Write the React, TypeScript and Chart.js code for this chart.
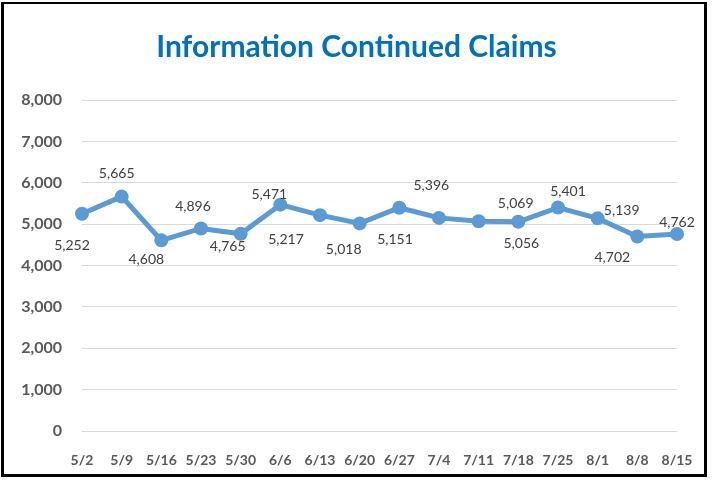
import React, { useEffect, useRef } from "react";
import { Chart, registerables } from "chart.js";

Chart.register(...registerables);

const categories = ["5/2", "5/9", "5/16", "5/23", "5/30", "6/6", "6/13", "6/20", "6/27", "7/4", "7/11", "7/18", "7/25", "8/1", "8/8", "8/15"];
const claims = [5252, 5665, 4608, 4896, 4765, 5471, 5217, 5018, 5396, 5151, 5069, 5056, 5401, 5139, 4702, 4762];
const yTicks = { min: 0, max: 8000, step: 1000 };
const titleText = "Information Continued Claims";

// label placement relative to each point (px), styling only
const labelOffsets: [number, number][] = [
  [-10, 32], [-5, -23], [-15, 19], [-8, -22], [-13, 13], [-11, -10], [-34, 24], [-16, 26],
  [32, -22], [-44, 22], [37, -18], [3, 22], [10, -16], [24, -8], [-25, 21], [0, -11],
];

const FONT = 'Lato, "Open Sans", "Noto Sans", sans-serif';
const fmt = (v: number) => v.toLocaleString("en-US");

const labelPlugin = {
  id: "pointLabels",
  afterDatasetsDraw(chart: any) {
    const ctx = chart.ctx;
    const meta = chart.getDatasetMeta(0);
    ctx.save();
    ctx.font = `14px ${FONT}`;
    ctx.fillStyle = "#404040";
    ctx.textAlign = "center";
    ctx.textBaseline = "middle";
    meta.data.forEach((pt: any, i: number) => {
      const [dx, dy] = labelOffsets[i] || [0, -14];
      ctx.fillText(fmt(claims[i]), pt.x + dx, pt.y + dy);
    });
    ctx.restore();
  },
};

export default function App() {
  const ref = useRef<HTMLCanvasElement | null>(null);
  useEffect(() => {
    if (!ref.current) return;
    const chart = new Chart(ref.current, {
      type: "line",
      data: {
        labels: categories,
        datasets: [
          {
            data: claims,
            borderColor: "#5B9BD5",
            backgroundColor: "#5B9BD5",
            borderWidth: 5,
            pointRadius: 7,
            pointBackgroundColor: "#5B9BD5",
            pointBorderWidth: 0,
            tension: 0,
          },
        ],
      },
      options: {
        responsive: false,
        animation: false,
        devicePixelRatio: 1,
        layout: { padding: { left: 0, right: 0, top: 0, bottom: 0 } },
        plugins: {
          legend: { display: false },
          tooltip: { enabled: false },
          title: {
            display: true,
            text: titleText,
            color: "#0070C0",
            font: { family: FONT, size: 30, weight: "bold" },
            padding: { top: 29, bottom: 35 },
          },
        },
        scales: {
          x: {
            offset: false,
            grid: { display: false },
            border: { display: false },
            ticks: {
              color: "#595959",
              font: { family: FONT, size: 14, weight: "bold" },
              padding: 13,
              maxRotation: 0,
              autoSkip: false,
            },
            afterFit: (s: any) => {
              s.height = 50;
            },
          },
          y: {
            min: yTicks.min,
            max: yTicks.max,
            grid: { color: "#D9D9D9", lineWidth: 1, drawTicks: false },
            border: { display: false },
            ticks: {
              stepSize: yTicks.step,
              color: "#595959",
              font: { family: FONT, size: 16, weight: "bold" },
              padding: 20,
              callback: (v: any) => fmt(Number(v)),
            },
            afterFit: (s: any) => {
              s.width = 82;
            },
          },
          spacer: {
            type: "linear",
            position: "right",
            display: true,
            grid: { display: false, drawTicks: false },
            border: { display: false },
            ticks: { display: false },
            afterFit: (s: any) => {
              s.width = 36;
            },
          },
        },
      },
      plugins: [labelPlugin],
    });
    return () => chart.destroy();
  }, []);

  return (
    <div style={{ position: "fixed", left: 0, top: 0, width: 713, height: 481, background: "#fff" }}>
      <canvas ref={ref} width={713} height={481} style={{ position: "absolute", left: 0, top: 0, width: 713, height: 481 }} />
      <div
        style={{
          position: "absolute",
          left: 1,
          top: 2,
          width: 706,
          height: 475,
          boxSizing: "border-box",
          borderStyle: "solid",
          borderColor: "#000",
          borderWidth: "2px 3px 3px 3px",
          pointerEvents: "none",
        }}
      />
    </div>
  );
}
